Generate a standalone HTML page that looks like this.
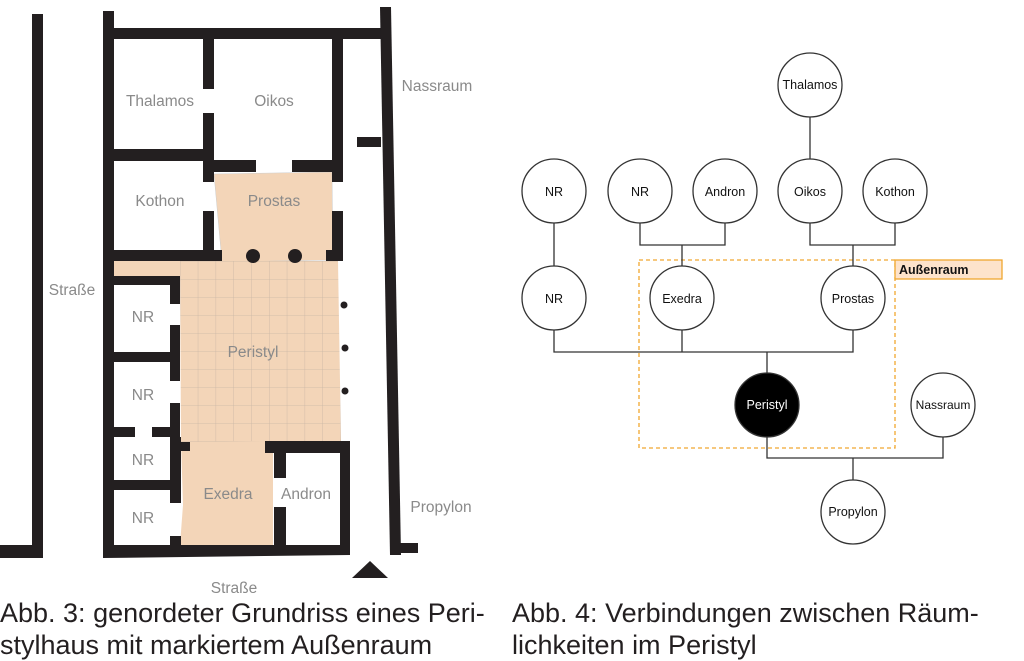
<!DOCTYPE html>
<html><head><meta charset="utf-8"><style>
html,body{margin:0;padding:0;background:#fff;}
body{width:1024px;height:661px;overflow:hidden;position:relative;}
svg{position:absolute;left:0;top:0;}
.cap{position:absolute;font-family:"Liberation Sans",sans-serif;font-size:27px;line-height:32px;color:#231f20;white-space:nowrap;}
</style></head><body>
<svg width="1024" height="661" viewBox="0 0 1024 661">
<defs>
<pattern id="grid" x="180" y="261" width="17.8" height="18" patternUnits="userSpaceOnUse">
<rect width="17.8" height="18" fill="#f3d5b8"/>
<path d="M0 0V18M0 0H17.8" stroke="#c9b7a6" stroke-width="0.8" fill="none"/>
</pattern>
</defs>
<polygon points="214,174 332,172 333,260 222,262" fill="#f3d5b8" stroke="#ccc" stroke-width="0.5"/>
<rect x="114" y="261" width="70" height="15" fill="#f3d5b8"/>
<polygon points="180,261 338,261 341,442 181,444" fill="url(#grid)"/>
<polygon points="181,442 265,441 273,450 273,545 180,545 183,505" fill="#f3d5b8"/>
<g fill="#231f20">
<rect x="32" y="14" width="11" height="544"/>
<rect x="0" y="545" width="43" height="13"/>
<rect x="103" y="11" width="11" height="546"/>
<rect x="114" y="28" width="267" height="11"/>
<polygon points="380,7 391,7 401,555 390,555"/>
<rect x="390" y="543" width="28" height="10"/>
<rect x="357" y="137" width="24" height="10"/>
<rect x="203" y="39" width="11" height="50"/>
<rect x="203" y="113" width="11" height="69"/>
<rect x="114" y="149" width="100" height="12"/>
<rect x="332" y="38" width="11" height="144"/>
<rect x="214" y="160" width="42" height="12"/>
<rect x="292" y="160" width="51" height="12"/>
<rect x="203" y="211" width="11" height="50"/>
<rect x="114" y="250" width="108" height="11"/>
<rect x="332" y="211" width="11" height="50"/>
<rect x="326" y="250" width="17" height="11"/>
<circle cx="253" cy="256" r="7"/><circle cx="295" cy="256" r="7"/>
<rect x="114" y="276" width="66" height="9"/>
<rect x="170" y="276" width="10" height="28"/>
<rect x="170" y="325" width="10" height="56"/>
<rect x="114" y="352" width="66" height="10"/>
<rect x="170" y="403" width="10" height="39"/>
<rect x="114" y="427" width="21" height="10"/>
<rect x="152" y="427" width="28" height="10"/>
<rect x="170" y="437" width="11" height="66"/>
<rect x="181" y="442" width="9" height="9"/>
<rect x="114" y="480" width="60" height="10"/>
<rect x="170" y="536" width="11" height="10"/>
<rect x="265" y="441" width="85" height="12"/>
<rect x="340" y="441" width="10" height="112"/>
<rect x="274" y="453" width="12" height="25"/>
<rect x="274" y="507" width="12" height="40"/>
<polygon points="103,545 350,545 350,555 103,558"/>
<circle cx="344" cy="305" r="3.5"/><circle cx="345" cy="348" r="3.5"/><circle cx="345" cy="391" r="3.5"/>
<polygon points="352,578 388,578 370,561"/>
</g>
<g font-family="'Liberation Sans',sans-serif" font-size="15.5" fill="#8a8a8a" text-anchor="middle">
<text x="160" y="106">Thalamos</text>
<text x="274" y="106">Oikos</text>
<text x="437" y="91">Nassraum</text>
<text x="160" y="206">Kothon</text>
<text x="274" y="206">Prostas</text>
<text x="72" y="295">Straße</text>
<text x="143" y="322">NR</text>
<text x="253" y="357">Peristyl</text>
<text x="143" y="400">NR</text>
<text x="143" y="465">NR</text>
<text x="228" y="499">Exedra</text>
<text x="306" y="499">Andron</text>
<text x="441" y="512">Propylon</text>
<text x="143" y="523">NR</text>
<text x="234" y="593">Straße</text>
</g>
<rect x="639" y="260" width="256" height="188" fill="none" stroke="#f0a830" stroke-width="1.3" stroke-dasharray="4,3"/>
<rect x="895" y="260" width="107" height="19" fill="#fde3cb" stroke="#f0a830" stroke-width="1.3"/>
<text x="899" y="274" font-family="'Liberation Sans',sans-serif" font-size="12.5" font-weight="bold" fill="#111">Außenraum</text>
<g stroke="#333" stroke-width="1.3" fill="none">
<path d="M810 117V159"/>
<path d="M554 223V266"/>
<path d="M640 223V245H725V223M682 245V266"/>
<path d="M810 223V245H895V223M853 245V266"/>
<path d="M554 330V352H853V330M682 330V352M767 352V373"/>
<path d="M767 437V458H943V437M853 458V480"/>
</g>
<g stroke="#333" stroke-width="1.3" fill="#fff">
<circle cx="810" cy="85" r="32"/>
<circle cx="554" cy="191" r="32"/><circle cx="640" cy="191" r="32"/><circle cx="725" cy="191" r="32"/>
<circle cx="810" cy="191" r="32"/><circle cx="895" cy="191" r="32"/>
<circle cx="554" cy="298" r="32"/><circle cx="682" cy="298" r="32"/><circle cx="853" cy="298" r="32"/>
<circle cx="767" cy="405" r="32" fill="#000"/>
<circle cx="943" cy="405" r="32"/>
<circle cx="853" cy="512" r="32"/>
</g>
<g font-family="'Liberation Sans',sans-serif" font-size="12.5" fill="#111" text-anchor="middle">
<text x="810" y="89">Thalamos</text>
<text x="554" y="196">NR</text><text x="640" y="196">NR</text><text x="725" y="196">Andron</text>
<text x="810" y="196">Oikos</text><text x="895" y="196">Kothon</text>
<text x="554" y="303">NR</text><text x="682" y="303">Exedra</text><text x="853" y="303">Prostas</text>
<text x="767" y="409" fill="#fff">Peristyl</text>
<text x="943" y="409" font-size="12">Nassraum</text>
<text x="853" y="516">Propylon</text>
</g>
</svg>
<div class="cap" style="left:0;top:597px;">Abb. 3: genordeter Grundriss eines Peri-<br>stylhaus mit markiertem Außenraum</div>
<div class="cap" style="left:512px;top:597px;">Abb. 4: Verbindungen zwischen Räum-<br>lichkeiten im Peristyl</div>
</body></html>
